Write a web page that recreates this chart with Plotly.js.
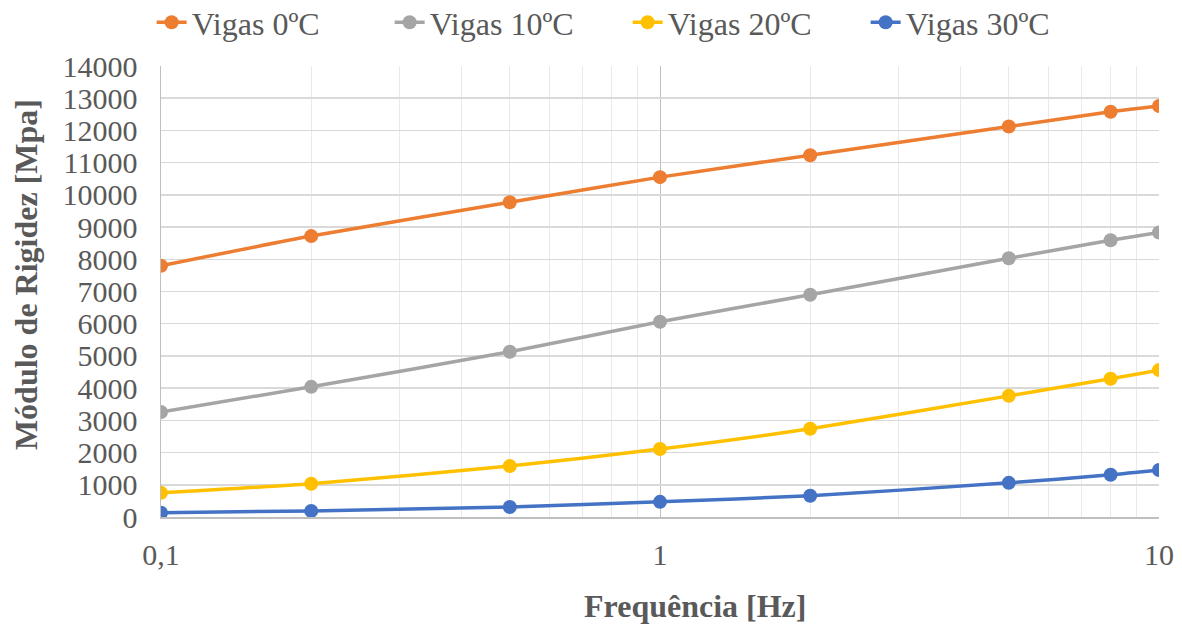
<!DOCTYPE html>
<html><head><meta charset="utf-8">
<script src="https://cdn.plot.ly/plotly-3.0.1.min.js"></script>
<style>html,body{margin:0;padding:0;background:#fff}#c{width:1182px;height:624px}</style>
</head><body><div id="c"></div>
<script>
const freq = [0.1, 0.2, 0.5, 1, 2, 5, 8, 10];
const vigas0 = [7800, 8720, 9770, 10550, 11230, 12120, 12580, 12760];
const vigas10 = [3260, 4040, 5130, 6060, 6900, 8030, 8590, 8830];
const vigas20 = [750, 1030, 1580, 2110, 2740, 3760, 4290, 4560];
const vigas30 = [130, 190, 310, 470, 660, 1060, 1310, 1460];
const seriesNames = ["Vigas 0ºC", "Vigas 10ºC", "Vigas 20ºC", "Vigas 30ºC"];
const colors = ["#ED7D31", "#A5A5A5", "#FFC000", "#4472C4"];
const xTickVals = [0.1, 1, 10];
const xTickText = ["0,1", "1", "10"];
const xMinorVals = [0.2,0.3,0.4,0.5,0.6,0.7,0.8,0.9,2,3,4,5,6,7,8,9];
const xTitle = "Frequência [Hz]";
const yTitle = "Módulo de Rigidez [Mpa]";

const data = [vigas0, vigas10, vigas20, vigas30].map((ys, i) => ({
  x: freq, y: ys, name: seriesNames[i], type: 'scatter', mode: 'lines+markers',
  line: {color: colors[i], width: 3.5, shape: 'spline', smoothing: 0.6},
  marker: {color: colors[i], size: 14}
}));

const font = {family: '"Liberation Serif", "Times New Roman", serif', color: '#595959'};
const layout = {
  width: 1182, height: 624,
  margin: {l: 161, r: 23, t: 66, b: 107},
  paper_bgcolor: '#fff', plot_bgcolor: '#fff',
  font: Object.assign({size: 30}, font),
  showlegend: true,
  legend: {orientation: 'h', x: 0.531, xref: 'container', xanchor: 'center', y: 0.964, yref: 'container', yanchor: 'middle',
    font: Object.assign({size: 32}, font), tracegroupgap: 0, entrywidth: 193, entrywidthmode: 'pixels'},
  xaxis: {
    type: 'log', range: [-1, 1], tickmode: 'array', tickvals: xTickVals, ticktext: xTickText,
    showgrid: true, gridcolor: '#BFBFBF', gridwidth: 1,
    showline: true, linecolor: '#BFBFBF', linewidth: 1.5, mirror: false,
    ticks: '', ticklabelstandoff: 10, zeroline: false,
    tickfont: Object.assign({size: 30}, font),
    minor: {tickmode: 'array', tickvals: xMinorVals, showgrid: true, gridcolor: '#EAEAEA', gridwidth: 1, ticks: ''}
  },
  yaxis: {
    range: [0, 14000], dtick: 1000, tick0: 0, tickformat: 'd',
    showgrid: true, gridcolor: '#D9D9D9', gridwidth: 1.5,
    showline: true, linecolor: '#BFBFBF', linewidth: 1.5,
    ticks: '', ticklabelstandoff: 16, zeroline: false,
    tickfont: Object.assign({size: 30}, font)
  },
  annotations: [
    {text: '<b>' + xTitle + '</b>', xref: 'paper', yref: 'paper', x: 0.535, y: -0.197,
     xanchor: 'center', yanchor: 'middle', showarrow: false, font: Object.assign({size: 32}, font)},
    {text: '<b>' + yTitle + '</b>', xref: 'paper', yref: 'paper', x: -0.135, y: 0.537, textangle: -90,
     xanchor: 'center', yanchor: 'middle', showarrow: false, font: Object.assign({size: 32}, font)}
  ]
};
Plotly.newPlot('c', data, layout, {displayModeBar: false, staticPlot: true});
</script></body></html>
